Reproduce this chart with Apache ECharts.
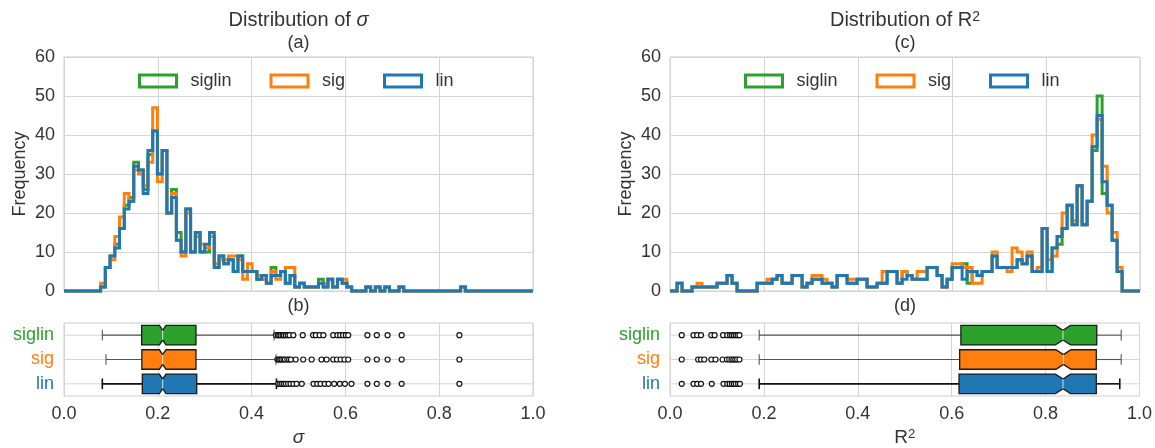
<!DOCTYPE html>
<html>
<head>
<meta charset="utf-8">
<script src="https://cdn.jsdelivr.net/npm/echarts@6/dist/echarts.min.js"></script>
<style>
  html, body { margin: 0; padding: 0; background: #ffffff; }
  #chart { width: 1155px; height: 448px; }
</style>
</head>
<body>
<div id="chart"></div>
<script>
// ---- data ----------------------------------------------------------------
const groups = ['siglin', 'sig', 'lin'];
const groupColors = ['#2ca02c', '#ff7f0e', '#1f77b4'];

const xTickInterval = 0.2;
const freqMax = 60;
const freqInterval = 10;

// histogram of sigma: first bin edge, bin width, counts per bin
const sigmaBinStart = 0.078;
const sigmaBinWidth = 0.0101;
const sigmaSiglin = [1,6,9,12,16,22,24,33,31,26, 35,41,30,36,20,26,15,10,21,10,
  15,10,10,14,6,9,7,8,5,9, 5,5,5,3,4,2,6,4,5,2, 4,1,2,1,1,1,3,1,3,1,
  3,2,1,0,0,0,1,0,1,0, 1,0,0,1,0,0,0,0,0,0, 0,0,0,0,0,0,1];
const sigmaSig = [2,6,8,14,19,25,23,31,30,27, 33,47,28,36,20,25,13,9,20,10,
  14,12,11,14,7,8,8,9,9,8, 3,7,5,4,3,2,5,3,5,6, 6,1,2,1,1,1,2,2,3,1,
  3,3,1,0,0,0,1,0,1,0, 1,0,0,1,0,0,0,0,0,0, 0,0,0,0,0,0,1];
const sigmaLin = [1,6,9,11,16,21,23,32,31,25, 36,41,30,36,20,24,13,10,21,10,
  15,10,12,15,6,9,7,8,5,9, 5,5,5,3,4,2,4,4,5,2, 4,1,2,1,1,1,2,1,3,1,
  3,2,1,0,0,0,1,0,1,0, 1,0,0,1,0,0,0,0,0,0, 0,0,0,0,0,0,1];

// histogram of R^2
const r2BinStart = 0.015;
const r2BinWidth = 0.01064;
const r2Siglin = [2,0,0,1,1,1,1,1,2,2, 4,2,0,0,0,0,2,2,2,3, 4,2,2,4,4,1,2,3,3,2,
  2,1,4,4,2,2,3,3,1,1, 2,2,5,5,2,5,4,3,3,3, 6,6,4,1,3,6,6,7,2,5,
  4,5,5,9,6,6,6,6,8,7, 9,5,5,16,5,11,12,16,22,17, 27,17,23,36,50,25,22,13,5];
const r2Sig = [2,0,0,1,2,1,1,1,2,2, 4,2,0,0,0,0,2,2,3,3, 4,2,2,4,4,1,2,4,4,3,
  2,1,4,4,3,3,3,3,1,1, 2,5,5,5,2,5,4,3,5,5, 6,6,4,1,3,7,7,6,6,2,
  2,5,5,10,6,6,5,11,10,7, 10,5,6,16,8,9,14,20,22,18, 27,17,23,40,44,32,20,15,6];
const r2Lin = [2,0,0,1,1,1,1,1,2,2, 4,2,0,0,0,0,2,2,2,3, 4,2,2,4,4,1,2,3,3,2,
  2,1,4,4,2,2,3,3,1,1, 2,2,5,5,2,3,4,3,3,3, 6,6,4,1,3,6,6,3,5,5,
  4,5,5,9,6,6,6,6,8,7, 9,5,5,16,5,11,14,16,22,17, 27,17,23,37,45,28,22,13,5];

// box statistics: [whisker low, q1, notch low, median, notch high, q3, whisker high]
const sigmaBoxSiglin = [0.0817, 0.1656, 0.2034, 0.2104, 0.2174, 0.2814, 0.4478];
const sigmaBoxSig    = [0.0896, 0.1660, 0.2034, 0.2104, 0.2174, 0.2814, 0.4520];
const sigmaBoxLin    = [0.0817, 0.1670, 0.2034, 0.2104, 0.2174, 0.2830, 0.4530];
const r2BoxSiglin = [0.190, 0.6196, 0.821, 0.837, 0.853, 0.909, 0.961];
const r2BoxSig    = [0.190, 0.6170, 0.822, 0.838, 0.854, 0.908, 0.961];
const r2BoxLin    = [0.190, 0.6156, 0.821, 0.837, 0.853, 0.908, 0.958];

// fliers
const sigmaOutSiglin = [0.452,0.456,0.459,0.462,0.466,0.469,0.473,0.477,0.481,0.489,
  0.509,0.531,0.537,0.545,0.553,0.574,0.583,0.589,0.595,0.601,0.606,
  0.647,0.667,0.690,0.720,0.843];
const sigmaOutSig = [0.455,0.458,0.461,0.464,0.468,0.471,0.476,0.480,0.484,0.494,
  0.510,0.528,0.549,0.560,0.574,0.582,0.590,0.598,0.606,
  0.647,0.667,0.690,0.720,0.843];
const sigmaOutLin = [0.457,0.461,0.465,0.469,0.473,0.478,0.483,0.489,0.496,
  0.507,0.532,0.540,0.547,0.556,0.564,0.576,0.588,0.599,0.613,
  0.647,0.667,0.690,0.720,0.843];
const r2OutSiglin = [0.025,0.050,0.058,0.066,0.088,0.095,0.113,0.122,0.128,0.132,0.136,0.140,0.144,0.148];
const r2OutSig    = [0.025,0.060,0.066,0.073,0.088,0.097,0.112,0.121,0.126,0.131,0.135,0.139,0.143,0.148];
const r2OutLin    = [0.025,0.050,0.058,0.066,0.089,0.114,0.122,0.127,0.132,0.136,0.140,0.145,0.149];

// ---- helpers -------------------------------------------------------------
const FONT = '"Liberation Sans", Arial, "DejaVu Sans", sans-serif';
const GRID_COLOR = '#d5d5d5';
const TEXT_COLOR = '#333333';

// rich-text styles: italic symbol and raised exponent
function richStyles(size) {
  return {
    i: { fontStyle: 'italic', fontSize: size, color: TEXT_COLOR, fontFamily: FONT },
    b: { fontSize: size, color: TEXT_COLOR, fontFamily: FONT, verticalAlign: 'bottom' },
    s: { fontSize: Math.round(size * 0.68), color: TEXT_COLOR, fontFamily: FONT, verticalAlign: 'top' }
  };
}

// outline of a step histogram running along the baseline from 0 to 1
function stepPoints(start, width, counts) {
  const pts = [[0, 0]];
  counts.forEach((c, k) => pts.push([start + k * width, c]));
  pts.push([start + counts.length * width, 0]);
  pts.push([1, 0]);
  return pts;
}

function histSeries(name, color, points, axisIdx, z) {
  return {
    type: 'line', name: name, data: points, step: 'end',
    xAxisIndex: axisIdx, yAxisIndex: axisIdx,
    showSymbol: false, symbol: 'none', clip: false, silent: true, z: z,
    lineStyle: { color: color, width: 3, join: 'miter', cap: 'butt' },
    itemStyle: { color: color }
  };
}

// light line through the middle of every box row
function rowLineSeries(axisIdx) {
  return {
    type: 'custom', xAxisIndex: axisIdx, yAxisIndex: axisIdx, silent: true, z: 1,
    data: groups.map((g, i) => [i]),
    renderItem: function (params, api) {
      const i = api.value(0);
      const a = api.coord([0, i]);
      const b = api.coord([1, i]);
      return { type: 'line', shape: { x1: a[0], y1: a[1], x2: b[0], y2: b[1] },
               style: { stroke: GRID_COLOR, lineWidth: 1 } };
    }
  };
}

// notched horizontal box with whiskers
function boxSeries(stats, axisIdx) {
  return {
    type: 'custom', xAxisIndex: axisIdx, yAxisIndex: axisIdx, silent: true, z: 3,
    data: stats.map((s, i) => [i].concat(s)),
    renderItem: function (params, api) {
      const i = api.value(0);
      const wLo = api.value(1), q1 = api.value(2), nLo = api.value(3), med = api.value(4),
            nHi = api.value(5), q3 = api.value(6), wHi = api.value(7);
      const band = api.size([0, 1])[1];
      const cy = api.coord([0, i])[1];
      const h = band * 0.8, top = cy - h / 2, bot = cy + h / 2, ind = h * 0.25;
      const X = v => api.coord([v, i])[0];
      const cap = band * 0.22;
      const whiskerColor = i === 2 ? '#111111' : '#555555';
      const whiskerWidth = i === 2 ? 1.6 : 1.1;
      const color = groupColors[i];
      return {
        type: 'group',
        children: [
          { type: 'line', shape: { x1: X(wLo), y1: cy, x2: X(q1), y2: cy },
            style: { stroke: whiskerColor, lineWidth: whiskerWidth } },
          { type: 'line', shape: { x1: X(q3), y1: cy, x2: X(wHi), y2: cy },
            style: { stroke: whiskerColor, lineWidth: whiskerWidth } },
          { type: 'line', shape: { x1: X(wLo), y1: cy - cap, x2: X(wLo), y2: cy + cap },
            style: { stroke: whiskerColor, lineWidth: whiskerWidth } },
          { type: 'line', shape: { x1: X(wHi), y1: cy - cap, x2: X(wHi), y2: cy + cap },
            style: { stroke: whiskerColor, lineWidth: whiskerWidth } },
          { type: 'polygon', shape: { points: [
              [X(q1), top], [X(nLo), top], [X(med), top + ind], [X(nHi), top], [X(q3), top],
              [X(q3), bot], [X(nHi), bot], [X(med), bot - ind], [X(nLo), bot], [X(q1), bot]
            ] },
            style: { fill: color, stroke: '#1a1a1a', lineWidth: 1.3, lineJoin: 'miter' } },
          { type: 'line', shape: { x1: X(med), y1: top + ind, x2: X(med), y2: bot - ind },
            style: { stroke: 'rgba(235,245,235,0.85)', lineWidth: 1 } }
        ]
      };
    }
  };
}

function flierSeries(lists, axisIdx) {
  const pts = [];
  lists.forEach((vals, i) => vals.forEach(v => pts.push([v, groups[i]])));
  return {
    type: 'scatter', xAxisIndex: axisIdx, yAxisIndex: axisIdx, silent: true, z: 4,
    data: pts, symbol: 'circle', symbolSize: 5,
    itemStyle: { color: '#ffffff', borderColor: '#111111', borderWidth: 1.2, opacity: 1 }
  };
}

function histXAxis(gridIndex) {
  return {
    type: 'value', gridIndex: gridIndex, min: 0, max: 1, interval: xTickInterval,
    axisLine: { show: false }, axisTick: { show: false }, axisLabel: { show: false },
    splitLine: { show: true, lineStyle: { color: GRID_COLOR, width: 1 } }
  };
}
function boxXAxis(gridIndex, name) {
  return {
    type: 'value', gridIndex: gridIndex, min: 0, max: 1, interval: xTickInterval,
    axisLine: { show: false }, axisTick: { show: false },
    axisLabel: { color: TEXT_COLOR, fontSize: 18, fontFamily: FONT, margin: 9,
                 formatter: v => v.toFixed(1) },
    splitLine: { show: true, lineStyle: { color: GRID_COLOR, width: 1 } },
    name: name, nameLocation: 'middle', nameGap: 32,
    nameTextStyle: { color: TEXT_COLOR, fontSize: 19, fontFamily: FONT, rich: richStyles(19) }
  };
}
function histYAxis(gridIndex) {
  return {
    type: 'value', gridIndex: gridIndex, min: 0, max: freqMax, interval: freqInterval,
    axisLine: { show: false }, axisTick: { show: false },
    axisLabel: { color: TEXT_COLOR, fontSize: 18, fontFamily: FONT, margin: 9 },
    splitLine: { show: true, lineStyle: { color: GRID_COLOR, width: 1 } },
    name: 'Frequency', nameLocation: 'middle', nameGap: 35,
    nameTextStyle: { color: TEXT_COLOR, fontSize: 18, fontFamily: FONT }
  };
}
function boxYAxis(gridIndex) {
  return {
    type: 'category', gridIndex: gridIndex, data: groups, inverse: true,
    axisLine: { show: false }, axisTick: { show: false }, splitLine: { show: false },
    axisLabel: { fontSize: 18, fontFamily: FONT, margin: 10,
                 color: (v, idx) => groupColors[groups.indexOf(v)] }
  };
}

function legendFor(left) {
  return {
    left: left, top: 72, padding: 0, orient: 'horizontal',
    icon: 'rect', itemWidth: 37, itemHeight: 12, itemGap: 38,
    selectedMode: false,
    textStyle: { color: TEXT_COLOR, fontSize: 18, fontFamily: FONT, padding: [0, 0, 0, 9] },
    data: groups.map((g, i) => ({
      name: g,
      itemStyle: { color: 'rgba(255,255,255,0)', borderColor: groupColors[i], borderWidth: 3 }
    }))
  };
}

function titleAt(x, y, text, size) {
  return {
    text: text, left: x, top: y, textAlign: 'center', padding: 0,
    textStyle: { color: TEXT_COLOR, fontSize: size, fontWeight: 'normal', fontFamily: FONT,
                 rich: richStyles(size) }
  };
}

// ---- chart ---------------------------------------------------------------
const leftX = 64, rightX = 670, panelW = 469, panelWR = 470;
const chart = echarts.init(document.getElementById('chart'), null, { renderer: 'canvas' });

chart.setOption({
  animation: false,
  backgroundColor: '#ffffff',
  textStyle: { fontFamily: FONT },
  title: [
    titleAt(leftX + panelW / 2, 10, 'Distribution of {i|σ}', 20),
    titleAt(leftX + panelW / 2, 34, '(a)', 18),
    titleAt(leftX + panelW / 2, 297, '(b)', 18),
    titleAt(rightX + panelWR / 2, 10, '{b|Distribution of R}{s|2}', 20),
    titleAt(rightX + panelWR / 2, 34, '(c)', 18),
    titleAt(rightX + panelWR / 2, 297, '(d)', 18)
  ],
  legend: [legendFor(138), legendFor(744)],
  grid: [
    { left: leftX, top: 57, width: panelW, height: 234, show: true, borderColor: '#cccccc', borderWidth: 1 },
    { left: leftX, top: 323, width: panelW, height: 78, show: true, borderColor: '#cccccc', borderWidth: 1 },
    { left: rightX, top: 57, width: panelWR, height: 234, show: true, borderColor: '#cccccc', borderWidth: 1 },
    { left: rightX, top: 323, width: panelWR, height: 78, show: true, borderColor: '#cccccc', borderWidth: 1 }
  ],
  xAxis: [histXAxis(0), boxXAxis(1, '{i|σ}'), histXAxis(2), boxXAxis(3, '{b|R}{s|2}')],
  yAxis: [histYAxis(0), boxYAxis(1), histYAxis(2), boxYAxis(3)],
  series: [
    histSeries('siglin', groupColors[0], stepPoints(sigmaBinStart, sigmaBinWidth, sigmaSiglin), 0, 2),
    histSeries('sig', groupColors[1], stepPoints(sigmaBinStart, sigmaBinWidth, sigmaSig), 0, 3),
    histSeries('lin', groupColors[2], stepPoints(sigmaBinStart, sigmaBinWidth, sigmaLin), 0, 4),
    histSeries('siglin', groupColors[0], stepPoints(r2BinStart, r2BinWidth, r2Siglin), 2, 2),
    histSeries('sig', groupColors[1], stepPoints(r2BinStart, r2BinWidth, r2Sig), 2, 3),
    histSeries('lin', groupColors[2], stepPoints(r2BinStart, r2BinWidth, r2Lin), 2, 4),
    rowLineSeries(1),
    boxSeries([sigmaBoxSiglin, sigmaBoxSig, sigmaBoxLin], 1),
    flierSeries([sigmaOutSiglin, sigmaOutSig, sigmaOutLin], 1),
    rowLineSeries(3),
    boxSeries([r2BoxSiglin, r2BoxSig, r2BoxLin], 3),
    flierSeries([r2OutSiglin, r2OutSig, r2OutLin], 3)
  ]
});
</script>
</body>
</html>
